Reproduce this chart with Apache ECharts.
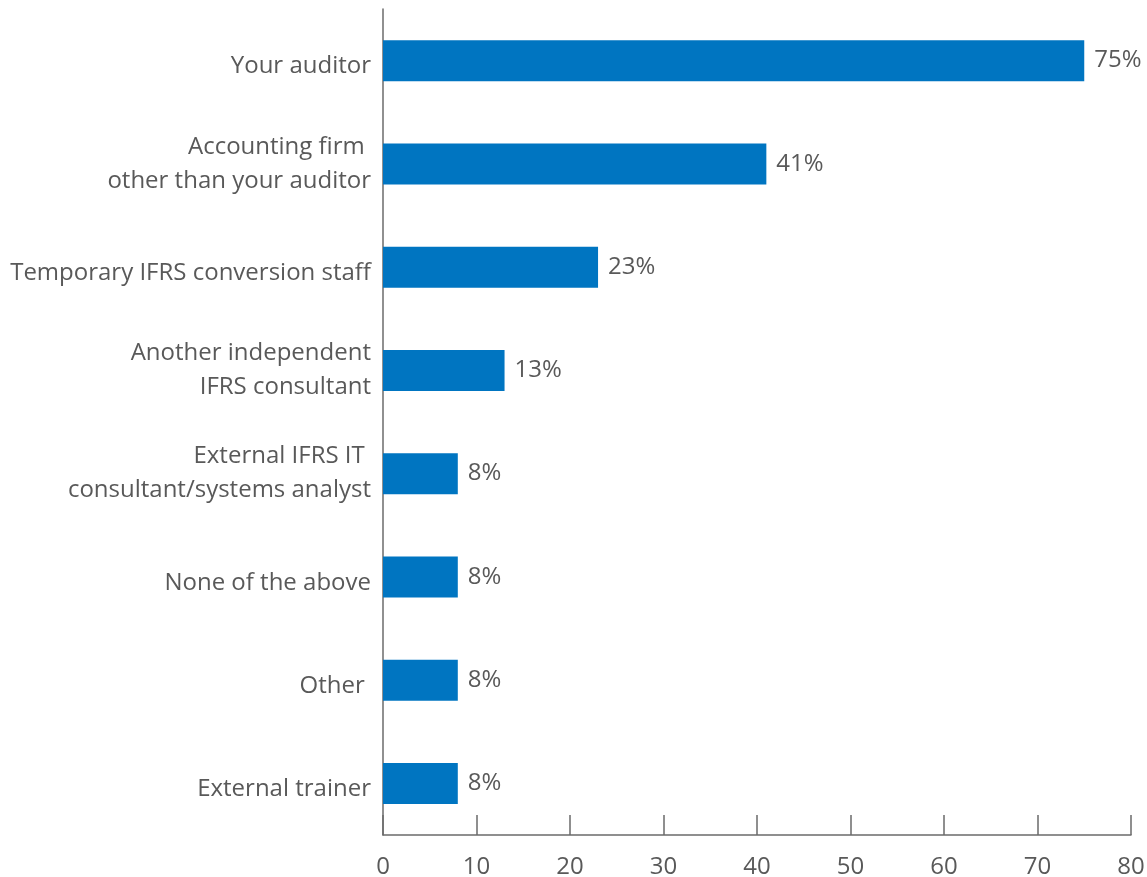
<!DOCTYPE html>
<html>
<head>
<meta charset="utf-8">
<script src="https://cdn.jsdelivr.net/npm/echarts@6/dist/echarts.min.js"></script>
<style>
  html, body { margin: 0; padding: 0; background: #fff; }
  #chart { width: 1147px; height: 877px; }
</style>
</head>
<body>
<div id="chart"></div>
<script>
// Sources of external IFRS support (share of respondents, %)
const categories = [
  'Your auditor',
  'Accounting firm \nother than your auditor',
  'Temporary IFRS conversion staff',
  'Another independent\nIFRS consultant',
  'External IFRS IT \nconsultant/systems analyst',
  'None of the above',
  'Other ',
  'External trainer'
];
const values = [75, 41, 23, 13, 8, 8, 8, 8];
const xTicks = [0, 10, 20, 30, 40, 50, 60, 70, 80];

const FONT = 'Open Sans';
const TEXT = '#595959';
const AXIS = '#6b6b6b';
const SIZE = 24;

const chart = echarts.init(document.getElementById('chart'), null, { renderer: 'canvas' });
chart.setOption({
  animation: false,
  backgroundColor: '#ffffff',
  grid: { left: 383, right: 16, top: 9, bottom: 42, containLabel: false, outerBoundsMode: 'none' },
  xAxis: {
    type: 'value',
    min: xTicks[0],
    max: xTicks[xTicks.length - 1],
    interval: 10,
    axisLine: { show: true, lineStyle: { color: AXIS, width: 1.5 } },
    axisTick: { show: true, inside: true, length: 20, lineStyle: { color: AXIS, width: 1.5 } },
    splitLine: { show: false },
    axisLabel: { color: TEXT, fontFamily: FONT, fontSize: SIZE, margin: 20 }
  },
  yAxis: {
    type: 'category',
    data: categories,
    inverse: true,
    axisLine: { show: true, lineStyle: { color: AXIS, width: 1.5 } },
    axisTick: { show: false },
    axisLabel: {
      color: TEXT, fontFamily: FONT, fontSize: SIZE, lineHeight: 34, margin: 12, align: 'right',
      // single-line labels sit slightly below the bar centre
      formatter: v => v.indexOf('\n') < 0 ? '{one|' + v + '}' : v,
      rich: {
        one: { color: TEXT, fontFamily: FONT, fontSize: SIZE, lineHeight: 34, padding: [12, 0, 0, 0] }
      }
    }
  },
  series: [{
    type: 'bar',
    data: values,
    barWidth: 41,
    itemStyle: { color: '#0075c1' },
    label: {
      show: true,
      position: 'right',
      distance: 10,
      formatter: p => p.value + '%',
      color: TEXT,
      fontFamily: FONT,
      fontSize: SIZE
    }
  }]
});
</script>
</body>
</html>
